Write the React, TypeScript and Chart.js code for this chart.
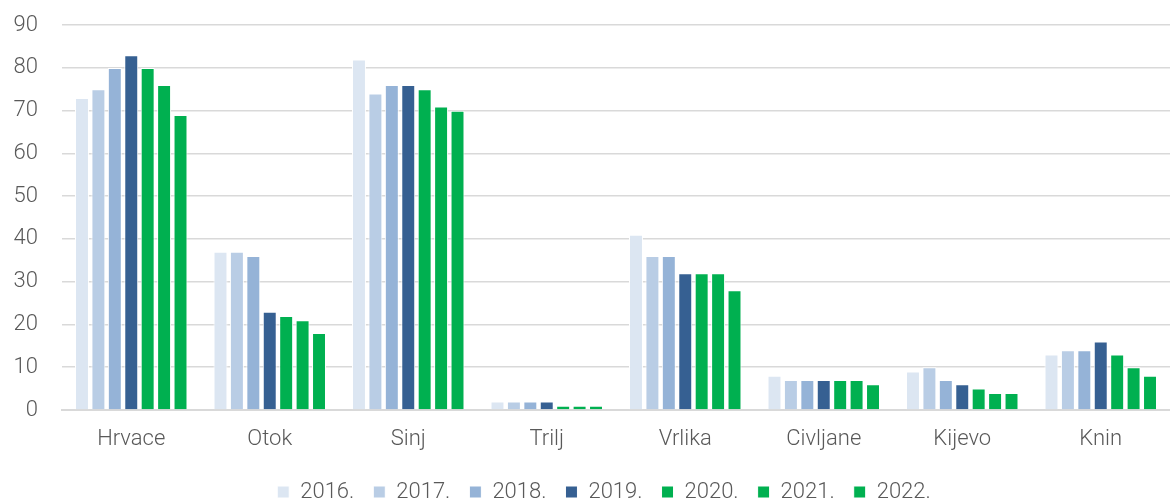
import React, { useEffect, useRef } from "react";
import { Chart, registerables } from "chart.js";

Chart.register(...registerables);

const categories = ["Hrvace", "Otok", "Sinj", "Trilj", "Vrlika", "Civljane", "Kijevo", "Knin"];
const years = ["2016.", "2017.", "2018.", "2019.", "2020.", "2021.", "2022."];
const v2016 = [73, 37, 82, 2, 41, 8, 9, 13];
const v2017 = [75, 37, 74, 2, 36, 7, 10, 14];
const v2018 = [80, 36, 76, 2, 36, 7, 7, 14];
const v2019 = [83, 23, 76, 2, 32, 7, 6, 16];
const v2020 = [80, 22, 75, 1, 32, 7, 5, 13];
const v2021 = [76, 21, 71, 1, 32, 7, 4, 10];
const v2022 = [69, 18, 70, 1, 28, 6, 4, 8];
const colors = ["#DCE6F2", "#B9CDE5", "#95B3D7", "#366092", "#00B050", "#00B050", "#00B050"];

const legendShift = {
  id: "legendShift",
  afterLayout(chart: any) {
    if (chart.legend) {
      chart.legend.left -= 12;
      chart.legend.right -= 12;
    }
  },
};

export default function App() {
  const ref = useRef<HTMLCanvasElement>(null);
  useEffect(() => {
    document.body.style.margin = "0";
    const series = [v2016, v2017, v2018, v2019, v2020, v2021, v2022];
    const font = { family: "Roboto", size: 22, weight: "300" as any };
    const chart = new Chart(ref.current!, {
      type: "bar",
      data: {
        labels: categories,
        datasets: series.map((d, i) => ({
          label: years[i],
          data: d,
          backgroundColor: colors[i],
          borderColor: "#FFFFFF",
          borderWidth: 1,
          barPercentage: 0.85,
          categoryPercentage: 0.83,
        })),
      },
      plugins: [legendShift],
      options: {
        animation: false,
        responsive: false,
        maintainAspectRatio: false,
        layout: { padding: { top: 5, right: 0, left: 0, bottom: 0 } },
        plugins: {
          legend: {
            position: "bottom",
            fullSize: false,
            labels: {
              boxWidth: 12,
              boxHeight: 12,
              color: "#595959",
              font,
              padding: 19,
            },
          },
          tooltip: { enabled: false },
        },
        scales: {
          x: {
            grid: { display: false },
            border: { color: "#D9D9D9", width: 2 },
            ticks: { color: "#595959", font, padding: 8 },
            afterFit: (scale: any) => {
              scale.height = 52;
            },
          },
          y: {
            min: 0,
            max: 90,
            ticks: { stepSize: 10, color: "#595959", font, padding: 24 },
            grid: { color: "#D9D9D9", lineWidth: 1.5, drawTicks: false },
            border: { display: false },
            afterFit: (scale: any) => {
              scale.width = 62;
            },
          },
        },
      },
    });
    return () => chart.destroy();
  }, []);
  return (
    <div style={{ width: 1170, height: 500, overflow: "hidden" }}>
      <canvas ref={ref} width={1170} height={525} style={{ display: "block", marginTop: -12 }} />
    </div>
  );
}
